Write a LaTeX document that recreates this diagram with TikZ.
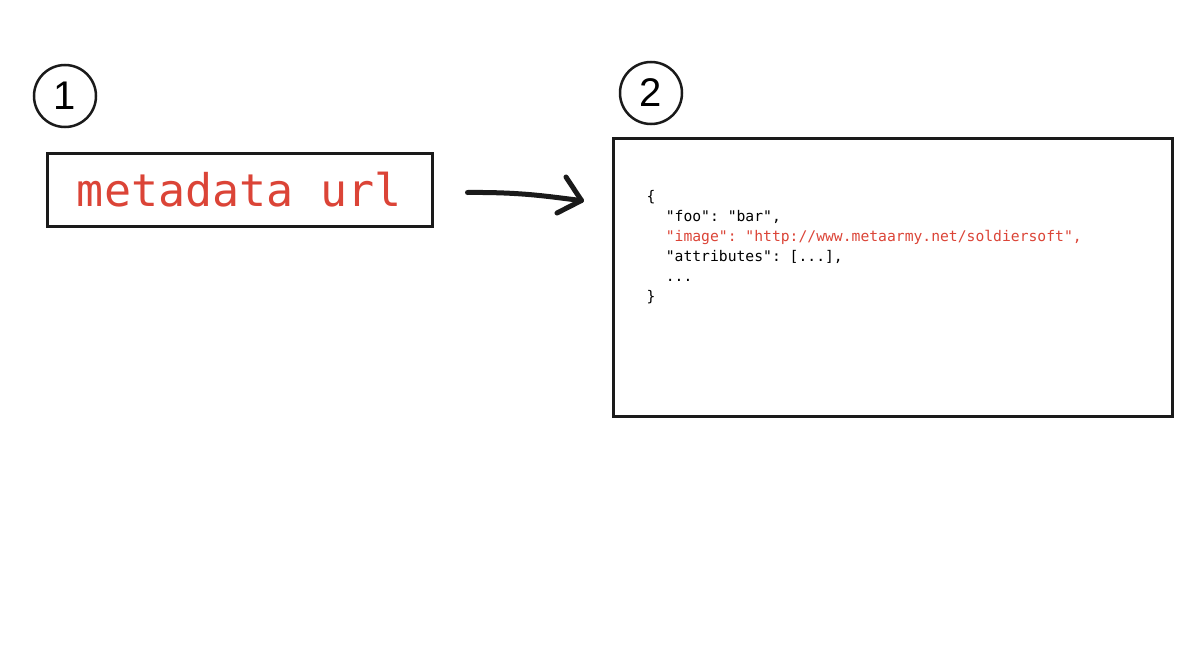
\documentclass[tikz,border=0pt]{standalone}
\usepackage{fontspec}
\setmainfont{Liberation Sans}
\setmonofont{DejaVu Sans Mono}
\usetikzlibrary{positioning}
\definecolor{urlred}{RGB}{219,68,55}
\definecolor{ink}{RGB}{26,26,26}

\begin{document}
\begin{tikzpicture}[
        x=1pt,y=-1pt,
        stepnum/.style={draw=ink,circle,line width=2.5pt,minimum size=62pt,inner sep=0pt,font=\fontsize{40}{40}\selectfont},
        panel/.style={draw=ink,rectangle,line width=3pt,inner sep=0pt},
        urltext/.style={font=\fontsize{45}{54}\selectfont\ttfamily,text=urlred},
        jsontext/.style={font=\fontsize{14.7}{20}\selectfont\ttfamily,align=left,inner sep=0pt,anchor=north west}
    ]
    \useasboundingbox (0,0) rectangle (1200,645);
    \node[stepnum] (n1) at (65,96) {1};
    \node[stepnum] (n2) at (651,93) {2};
    \node[panel,urltext,minimum width=385pt,minimum height=73pt] (meta) at (239.5,189.5) {metadata url};
    \node[panel,minimum width=559pt,minimum height=278pt] (json) at (892.5,277.5) {};
    \node[jsontext] (body) at ([xshift=35pt,yshift=-53pt]json.north west) {\{\\
        \hspace*{1.3em}"foo": "bar",\\
        \hspace*{1.3em}\textcolor{urlred}{"image": "http://www.metaarmy.net/soldiersoft",}\\
        \hspace*{1.3em}"attributes": [...],\\
        \hspace*{1.3em}...\\
        \}};
    \coordinate (tail) at ([xshift=34pt,yshift=-3pt]meta.east);
    \coordinate (tip) at ([xshift=-30pt,yshift=77pt]json.west);
    \draw[ink,line width=5pt,line cap=round] (tail) .. controls (525,192) and (550,197) .. (tip);
    \draw[ink,line width=5pt,line cap=round,line join=round] (566,177) -- (tip) -- (557,213);
\end{tikzpicture}
\end{document}
